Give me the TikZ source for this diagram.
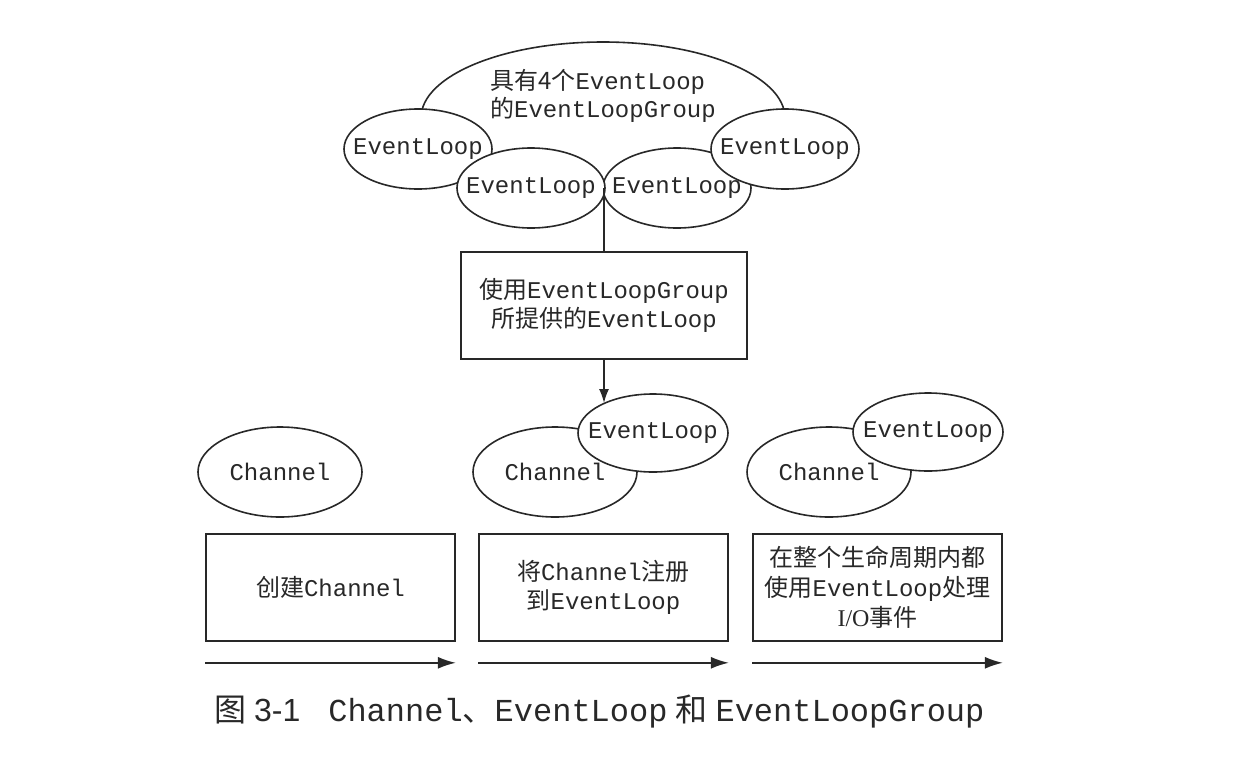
\documentclass[tikz,border=0pt]{standalone}
\usepackage{fontspec}
\setmainfont{Liberation Serif}
\setsansfont{Liberation Sans}
\setmonofont{Liberation Mono}
\newfontfamily\zhfont{Noto Sans CJK SC}
\newcommand{\zh}[1]{{\zhfont #1}}
\usetikzlibrary{shapes.geometric,arrows.meta}
\definecolor{ink}{RGB}{40,40,40}

\begin{document}
\begin{tikzpicture}[x=0.5pt,y=-0.5pt,
    ell/.style={draw=ink, line width=0.8pt, fill=white, ellipse, inner sep=0pt},
    txt/.style={font=\ttfamily\fontsize{12}{14.5}\selectfont, text=ink},
    loopell/.style={ell, minimum width=74pt, minimum height=40pt, label={[txt]center:#1}},
    chanell/.style={ell, minimum width=82pt, minimum height=45pt, label={[txt]center:#1}},
    stagebox/.style={draw=ink, line width=0.8pt, fill=white, minimum width=124.5pt,
      minimum height=53.5pt, inner sep=0pt, align=center, txt},
    flow/.style={draw=ink, line width=0.8pt, -{Latex[length=9pt,width=6pt]}}]
  \useasboundingbox (0,0) rectangle (1258,760);

  % the group with its four loops
  \node[ell, minimum width=182pt, minimum height=76pt,
    label={[txt, align=left, yshift=11pt, font=\ttfamily\fontsize{12}{14}\selectfont]center:%
      \zh{具有4个}EventLoop\\\zh{的}EventLoopGroup}] (group) at (603,118) {};
  \node[loopell=EventLoop] (ela) at (418,149) {};
  \node[loopell=EventLoop] (elc) at (677,188) {};
  \node[loopell=EventLoop] (elb) at (531,188) {};
  \node[loopell=EventLoop] (eld) at (785,149) {};

  \node[stagebox, minimum width=143pt] (usebox) at (604,305.5)
    {\zh{使用}EventLoopGroup\\\zh{所提供的}EventLoop};
  \draw[ink, line width=0.8pt] (usebox.north) -- (usebox.north |- elb.east);

  % three stages
  \node[chanell=Channel] (cha) at (280,472) {};
  \node[chanell=Channel] (chb) at (555,472) {};
  \node[loopell=EventLoop, minimum width=75pt, minimum height=39pt] (elm) at (653,433) {};
  \node[chanell=Channel] (chc) at (829,472) {};
  \node[loopell=EventLoop, minimum width=75pt, minimum height=39pt] (elr) at (928,432) {};
  \draw[flow, -{Latex[length=7pt,width=5pt]}] (usebox.south) -- (usebox.south |- elm.149);

  \node[stagebox] (sta) at (330.5,587.5) {\zh{创建}Channel};
  \node[stagebox] (stb) at (603.5,587.5) {\zh{将}Channel\zh{注册}\\\zh{到}EventLoop};
  \node[stagebox, font=\ttfamily\fontsize{12}{15}\selectfont] (stc) at (877.5,587.5)
    {\zh{在整个生命周期内都}\\\zh{使用}EventLoop\zh{处理}\\{\rmfamily I/O}\zh{事件}};

  \foreach \s in {sta,stb,stc}
    \draw[flow] ([yshift=-10.5pt]\s.south west) -- ([yshift=-10.5pt]\s.south east);

  \node[anchor=west, text=ink, font=\fontsize{16}{18}\selectfont] (caption) at (207,712)
    {\zh{图}\hspace{4pt}{\sffamily 3-1}\hspace{14pt}\ttfamily Channel\zh{、}EventLoop\hspace{4pt}\zh{和}\hspace{4pt}EventLoopGroup};
\end{tikzpicture}
\end{document}
